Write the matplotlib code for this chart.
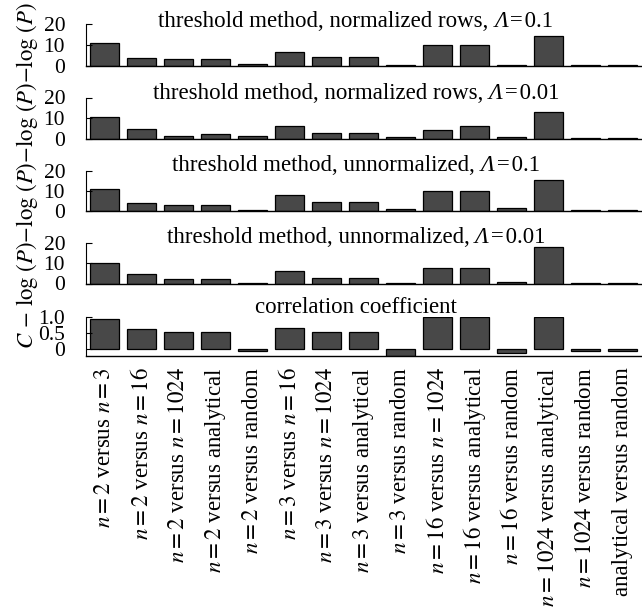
import matplotlib
matplotlib.use("Agg")
import matplotlib.pyplot as plt
import numpy as np

plt.rcParams["font.family"] = ["Liberation Serif", "DejaVu Serif"]
plt.rcParams["mathtext.fontset"] = "stix"

categories = [
    r"$n=2$ versus $n=3$",
    r"$n=2$ versus $n=16$",
    r"$n=2$ versus $n=1024$",
    r"$n=2$ versus analytical",
    r"$n=2$ versus random",
    r"$n=3$ versus $n=16$",
    r"$n=3$ versus $n=1024$",
    r"$n=3$ versus analytical",
    r"$n=3$ versus random",
    r"$n=16$ versus $n=1024$",
    r"$n=16$ versus analytical",
    r"$n=16$ versus random",
    r"$n=1024$ versus analytical",
    r"$n=1024$ versus random",
    r"analytical versus random",
]

norm_rows_01 = [11.0, 3.7, 3.4, 3.4, 0.9, 6.5, 4.1, 4.1, 0.7, 10.1, 10.1, 0.5, 14.4, 0.4, 0.4]
norm_rows_001 = [10.5, 4.5, 1.1, 2.1, 1.0, 6.3, 2.6, 2.8, 0.5, 4.3, 6.3, 0.7, 12.9, 0.3, 0.3]
unnorm_01 = [10.8, 3.8, 3.0, 3.0, 0.4, 7.7, 4.5, 4.5, 1.0, 9.8, 9.8, 1.3, 15.3, 0.6, 0.6]
unnorm_001 = [10.2, 4.6, 2.1, 2.1, 0.2, 6.3, 2.5, 2.5, 0.3, 7.5, 7.5, 0.6, 18.0, 0.4, 0.4]
corr_coef = [0.92, 0.62, 0.54, 0.54, -0.06, 0.66, 0.54, 0.54, -0.20, 1.0, 1.0, -0.11, 1.0, -0.06, -0.06]

# each title: (plain prefix, italic symbol, suffix)
titles = [
    ("threshold method, normalized rows, ", "\u039b", "\u200a=\u200a0.1"),
    ("threshold method, normalized rows, ", "\u039b", "\u200a=\u200a0.01"),
    ("threshold method, unnormalized, ", "\u039b", "\u200a=\u200a0.1"),
    ("threshold method, unnormalized, ", "\u039b", "\u200a=\u200a0.01"),
    ("correlation coefficient", "", ""),
]
series = [norm_rows_01, norm_rows_001, unnorm_01, unnorm_001, corr_coef]
yticks = [[0, 10, 20]] * 4 + [[0, 0.5, 1.0]]
yticklabels = [["0", "10", "20"]] * 4 + [["0", "0.5", "1.0"]]
ylims = [(0, 20)] * 4 + [(-0.2, 1.0)]
ylabel = r"$C\,-\,\log\,(P){-}\log\,(P){-}\log\,(P){-}\log\,(P)$"

W, H = 642, 607
fig = plt.figure(figsize=(W / 100, H / 100), dpi=100)
renderer = fig.canvas.get_renderer()

# panel geometry in pixels: (top, bottom) of each axes box
boxes = [(24, 66), (97.5, 138.5), (170.5, 211), (243, 283.5), (316.5, 356)]
title_baseline = [27, 99, 171, 243, 313]
title_center = 356
left_px, right_px = 86, 641
FS = 16.5
TICK_FS = 15.5


def centered_pieces(xc, yb, pieces):
    """Place a row of differently styled strings, centred as a group."""
    items = []
    for s, style in pieces:
        if not s:
            continue
        t = fig.text(0, 1 - yb / H, s, fontsize=FS, style=style,
                     ha="left", va="baseline")
        items.append(t)
    widths = [t.get_window_extent(renderer).width for t in items]
    xpos = xc - sum(widths) / 2
    for t, w in zip(items, widths):
        t.set_x(xpos / W)
        xpos += w


x = np.arange(len(categories))
for i, (vals, (top, bot)) in enumerate(zip(series, boxes)):
    ax = fig.add_axes([left_px / W, 1 - bot / H, (right_px - left_px) / W, (bot - top) / H])
    ax.bar(x, vals, width=0.8, color="#484848", edgecolor="black", linewidth=0.9)
    ax.set_xlim(-0.5, len(categories) - 0.5)
    ax.set_ylim(*ylims[i])
    ax.set_yticks(yticks[i])
    ax.set_yticklabels(yticklabels[i])
    ax.tick_params(axis="y", direction="in", length=4, width=0.8, labelsize=TICK_FS, pad=15)
    ax.tick_params(axis="x", length=0)
    for s in ("top", "right"):
        ax.spines[s].set_visible(False)
    ax.spines["left"].set_linewidth(0.8)
    ax.spines["bottom"].set_linewidth(1.0)
    if i < len(series) - 1:
        ax.set_xticks([])
    else:
        ax.set_xticks(x)
        ax.set_xticklabels(categories, rotation=90, fontsize=FS, va="top", ha="center")
        ax.tick_params(axis="x", pad=8)
    pre, sym, post = titles[i]
    centered_pieces(title_center, title_baseline[i],
                    [(pre, "normal"), (sym, "italic"), (post, "normal")])

fig.text(27 / W, 1 - 176 / H, ylabel, rotation=90, ha="center", va="center", fontsize=FS)

fig.savefig("out.png", dpi=100)
